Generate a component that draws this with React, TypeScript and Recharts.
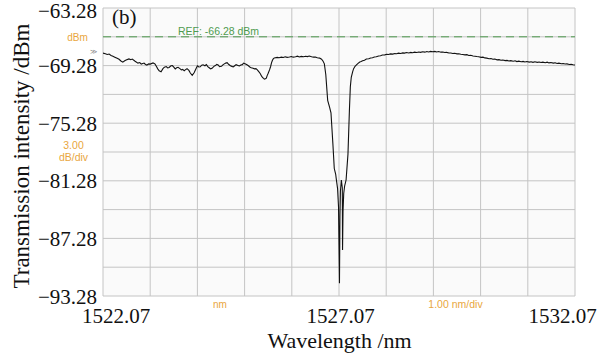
import React from "react";
import { LineChart, Line, XAxis, YAxis, CartesianGrid, ReferenceLine } from "recharts";

// trace: wavelength (nm) / power (dBm)
const LEFT_WL = [
    1522.07, 1522.12, 1522.16, 1522.20, 1522.24, 1522.28, 1522.32, 1522.37,
    1522.41, 1522.45, 1522.49, 1522.53, 1522.56, 1522.62, 1522.66, 1522.69,
    1522.75, 1522.81, 1522.85, 1522.88, 1522.94, 1522.97, 1523.00, 1523.04,
    1523.07, 1523.13, 1523.17, 1523.20, 1523.23, 1523.26, 1523.30, 1523.34,
    1523.37, 1523.41, 1523.44, 1523.47, 1523.51, 1523.54, 1523.57, 1523.60,
    1523.63, 1523.66, 1523.70, 1523.73, 1523.76, 1523.79, 1523.82, 1523.85,
    1523.89, 1523.92, 1523.96, 1524.00, 1524.04, 1524.07, 1524.10, 1524.13,
    1524.16, 1524.19, 1524.23, 1524.26, 1524.29, 1524.32, 1524.35, 1524.38,
    1524.42, 1524.45, 1524.48, 1524.51, 1524.54, 1524.58, 1524.61, 1524.64,
    1524.67, 1524.70, 1524.73, 1524.77, 1524.80, 1524.83, 1524.86, 1524.89,
    1524.93, 1524.96, 1524.99, 1525.02, 1525.05, 1525.09, 1525.12, 1525.15,
    1525.18, 1525.21, 1525.25, 1525.28, 1525.31, 1525.34, 1525.37, 1525.40,
    1525.43, 1525.45, 1525.47, 1525.49, 1525.51, 1525.53, 1525.55, 1525.57,
    1525.60, 1525.62, 1525.64, 1525.66, 1525.68, 1525.70, 1525.76, 1525.80,
    1525.85, 1525.89, 1525.93, 1525.97, 1526.02, 1526.06, 1526.10, 1526.15,
    1526.19, 1526.23, 1526.27, 1526.32, 1526.36, 1526.40, 1526.44, 1526.49,
    1526.53, 1526.57, 1526.61, 1526.66, 1526.70, 1526.73, 1526.76,
];
const LEFT_P = [
    -67.98, -68.05, -68.12, -68.08, -68.22, -68.30, -68.40, -68.52,
    -68.62, -68.80, -68.92, -68.78, -68.70, -68.58, -68.66, -68.60,
    -68.82, -69.02, -68.96, -69.12, -69.02, -69.16, -69.22, -69.10,
    -69.12, -69.00, -69.10, -69.35, -69.62, -69.82, -69.92, -69.60,
    -69.45, -69.38, -69.52, -69.48, -69.30, -69.28, -69.45, -69.62,
    -69.50, -69.46, -69.60, -69.72, -69.68, -69.82, -69.70, -69.60,
    -69.78, -70.05, -70.30, -70.02, -69.60, -69.30, -69.42, -69.40,
    -69.24, -69.20, -69.30, -69.18, -69.38, -69.50, -69.62, -69.56,
    -69.36, -69.28, -69.16, -69.22, -69.40, -69.36, -69.20, -69.10,
    -69.02, -68.98, -69.14, -69.30, -69.36, -69.42, -69.30, -69.18,
    -69.26, -69.32, -69.22, -69.18, -69.02, -69.12, -69.20, -69.30,
    -69.42, -69.50, -69.56, -69.62, -69.60, -69.72, -69.90, -70.10,
    -70.38, -70.52, -70.62, -70.70, -70.66, -70.58, -70.30, -70.08,
    -69.70, -69.40, -69.00, -68.72, -68.56, -68.48, -68.42, -68.46,
    -68.40, -68.44, -68.36, -68.42, -68.38, -68.34, -68.40, -68.36,
    -68.30, -68.38, -68.32, -68.36, -68.30, -68.34, -68.28, -68.36,
    -68.40, -68.38, -68.46, -68.50, -68.62, -68.80, -69.10,
];

// the grating notch around 1527.1 nm
const DIP_WL = [
    1526.79, 1526.83, 1526.87, 1526.90, 1526.94, 1526.97, 1527.00, 1527.01,
    1527.04, 1527.06, 1527.07, 1527.08, 1527.09, 1527.10, 1527.12, 1527.14,
    1527.145, 1527.155, 1527.17, 1527.19, 1527.22, 1527.26, 1527.29, 1527.31, 1527.33,
];
const DIP_P = [
    -70.20, -72.90, -73.60, -74.20, -77.40, -80.00, -80.60, -81.00,
    -82.10, -84.00, -88.00, -91.95, -85.00, -82.40, -81.20, -82.00,
    -88.50, -84.50, -82.60, -81.80, -81.20, -78.50, -74.00, -71.50, -70.50,
];

const RIGHT_WL = [
    1527.36, 1527.38, 1527.41, 1527.44, 1527.48, 1527.51, 1527.54, 1527.57,
    1527.61, 1527.65, 1527.70, 1527.74, 1527.78, 1527.82, 1527.86, 1527.91,
    1527.95, 1527.99, 1528.04, 1528.08, 1528.12, 1528.16, 1528.21, 1528.25,
    1528.29, 1528.33, 1528.38, 1528.42, 1528.46, 1528.50, 1528.55, 1528.59,
    1528.63, 1528.67, 1528.72, 1528.76, 1528.80, 1528.84, 1528.89, 1528.93,
    1528.97, 1529.01, 1529.06, 1529.10, 1529.14, 1529.18, 1529.23, 1529.27,
    1529.31, 1529.35, 1529.40, 1529.44, 1529.48, 1529.52, 1529.57, 1529.61,
    1529.65, 1529.69, 1529.74, 1529.78, 1529.82, 1529.86, 1529.91, 1529.95,
    1529.99, 1530.03, 1530.08, 1530.12, 1530.16, 1530.20, 1530.25, 1530.29,
    1530.33, 1530.37, 1530.42, 1530.46, 1530.50, 1530.54, 1530.59, 1530.63,
    1530.67, 1530.71, 1530.76, 1530.80, 1530.84, 1530.88, 1530.93, 1530.97,
    1531.01, 1531.05, 1531.10, 1531.14, 1531.18, 1531.22, 1531.27, 1531.31,
    1531.35, 1531.39, 1531.44, 1531.48, 1531.52, 1531.56, 1531.61, 1531.65,
    1531.69, 1531.73, 1531.78, 1531.82, 1531.86, 1531.90, 1531.95, 1531.99,
    1532.03, 1532.07,
];
const RIGHT_P = [
    -69.90, -69.60, -69.35, -69.20, -69.02, -68.90, -68.86, -68.78,
    -68.72, -68.60, -68.56, -68.48, -68.46, -68.38, -68.36, -68.28,
    -68.26, -68.18, -68.16, -68.10, -68.12, -68.06, -68.08, -68.02,
    -68.04, -67.98, -68.02, -67.96, -67.98, -67.92, -67.96, -67.90,
    -67.94, -67.88, -67.92, -67.86, -67.90, -67.84, -67.88, -67.82,
    -67.86, -67.80, -67.84, -67.80, -67.86, -67.82, -67.88, -67.86,
    -67.92, -67.90, -67.96, -67.96, -68.02, -68.00, -68.06, -68.04,
    -68.10, -68.12, -68.16, -68.14, -68.22, -68.20, -68.28, -68.30,
    -68.34, -68.36, -68.42, -68.40, -68.48, -68.50, -68.56, -68.54,
    -68.62, -68.60, -68.68, -68.66, -68.72, -68.70, -68.76, -68.74,
    -68.80, -68.76, -68.82, -68.78, -68.86, -68.82, -68.88, -68.84,
    -68.90, -68.86, -68.92, -68.88, -68.94, -68.88, -68.94, -68.90,
    -68.96, -68.92, -68.98, -68.92, -69.00, -68.96, -69.02, -68.98,
    -69.06, -69.02, -69.08, -69.06, -69.12, -69.10, -69.16, -69.14,
    -69.20, -69.22,
];

const X_TICKS = [1522.07, 1523.07, 1524.07, 1525.07, 1526.07, 1527.07, 1528.07, 1529.07, 1530.07, 1531.07, 1532.07];
const X_LABELS = [1522.07, 1527.07, 1532.07];
const Y_TICKS = [-93.28, -90.28, -87.28, -84.28, -81.28, -78.28, -75.28, -72.28, -69.28, -66.28, -63.28];
const Y_LABELS = [-93.28, -87.28, -81.28, -75.28, -69.28, -63.28];
const REF_LEVEL = -66.28;

const WIDTH = 616;
const HEIGHT = 359;
const SERIF = "'Liberation Serif', 'Times New Roman', serif";
const SANS = "'Liberation Sans', Arial, sans-serif";
const ORANGE = "#e9a640";
const GREEN = "#4f9a4f";

const zip = (wl: number[], p: number[]) =>
    wl.slice(0, Math.min(wl.length, p.length)).map((w, i) => ({ wl: w, p: p[i] }));

const data = [...zip(LEFT_WL, LEFT_P), ...zip(DIP_WL, DIP_P), ...zip(RIGHT_WL, RIGHT_P)];

const fmt = (v: number) => (v < 0 ? "\u2212" + Math.abs(v).toFixed(2) : v.toFixed(2));

// outer labels sit slightly inside, like in the original figure
const X_LABEL_SHIFT = [13, 1.5, -12.5];

const XTick = (props: any) => {
    const { x, y, payload } = props;
    const idx = X_LABELS.findIndex(v => Math.abs(v - payload.value) < 1e-6);
    if (idx < 0) return <g />;
    return (
        <text x={x + X_LABEL_SHIFT[idx]} y={y + 27} textAnchor="middle" fontFamily={SERIF} fontSize={21} fill="#111">
            {payload.value.toFixed(2)}
        </text>
    );
};

const YTick = (props: any) => {
    const { x, y, payload } = props;
    if (!Y_LABELS.some(v => Math.abs(v - payload.value) < 1e-6)) return <g />;
    // top label is nudged down so it stays inside the frame
    return (
        <text x={x - 6} y={Math.max(y + 7.5, 18)} textAnchor="end" fontFamily={SERIF} fontSize={21} fill="#111">
            {fmt(payload.value)}
        </text>
    );
};

export default function App() {
    return (
        <div style={{ position: "absolute", left: 0, top: 0, width: WIDTH, height: HEIGHT, background: "#fff" }}>
            <LineChart width={WIDTH} height={HEIGHT} data={data} margin={{ top: 8, right: 41, bottom: 0, left: 0 }}>
                <CartesianGrid stroke="#c4c4c4" fill="#fafafa" />
                <XAxis
                    dataKey="wl"
                    type="number"
                    domain={[1522.07, 1532.07]}
                    ticks={X_TICKS}
                    interval={0}
                    allowDataOverflow
                    axisLine={false}
                    tickLine={false}
                    tickSize={0}
                    tickMargin={0}
                    height={63}
                    tick={<XTick />}
                />
                <YAxis
                    type="number"
                    domain={[-93.28, -63.28]}
                    ticks={Y_TICKS}
                    interval={0}
                    allowDataOverflow
                    axisLine={false}
                    tickLine={false}
                    tickSize={0}
                    tickMargin={0}
                    width={103}
                    tick={<YTick />}
                />
                <ReferenceLine y={REF_LEVEL} stroke={GREEN} strokeDasharray="8 5" strokeWidth={1} />
                <Line
                    type="linear"
                    dataKey="p"
                    stroke="#111"
                    strokeWidth={1.1}
                    dot={false}
                    isAnimationActive={false}
                />
            </LineChart>
            <svg width={WIDTH} height={HEIGHT} style={{ position: "absolute", left: 0, top: 0, pointerEvents: "none" }}>
                <text x={112} y={24} fontFamily={SERIF} fontSize={21} fill="#111">(b)</text>
                <text x={178} y={35} fontFamily={SANS} fontSize={10.5} fill={GREEN}>REF: -66.28 dBm</text>
                <text x={90} y={54} fontFamily={SANS} fontSize={7} fill="#888">≫</text>
                <text x={77.5} y={41} textAnchor="middle" fontFamily={SANS} fontSize={10} fill={ORANGE}>dBm</text>
                <text x={73.5} y={149} textAnchor="middle" fontFamily={SANS} fontSize={10.5} fill={ORANGE}>3.00</text>
                <text x={73.5} y={161} textAnchor="middle" fontFamily={SANS} fontSize={10.5} fill={ORANGE}>dB/div</text>
                <text x={220} y={308} textAnchor="middle" fontFamily={SANS} fontSize={10} fill={ORANGE}>nm</text>
                <text x={455.5} y={308} textAnchor="middle" fontFamily={SANS} fontSize={10.5} fill={ORANGE}>1.00 nm/div</text>
                <text x={339.5} y={348} textAnchor="middle" fontFamily={SERIF} fontSize={22} fill="#111">Wavelength /nm</text>
                <text transform="translate(29,156) rotate(-90)" textAnchor="middle" fontFamily={SERIF} fontSize={23} fill="#111">
                    Transmission intensity /dBm
                </text>
            </svg>
        </div>
    );
}
